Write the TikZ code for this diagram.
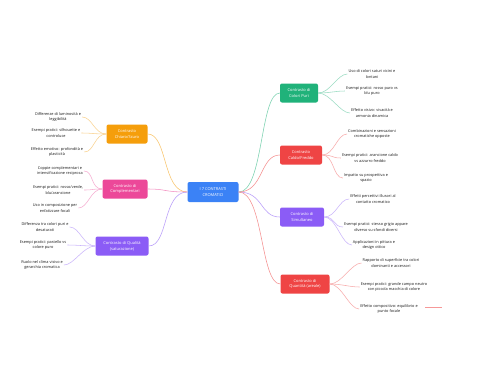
\documentclass[tikz,border=0pt]{standalone}
\usepackage{fontspec}
\setmainfont{Open Sans}
\definecolor{cgreen}{HTML}{20B27A}
\definecolor{cred}{HTML}{EF4444}
\definecolor{cpurple}{HTML}{8B5CF6}
\definecolor{corange}{HTML}{F59E0B}
\definecolor{cpink}{HTML}{EC4899}
\definecolor{cblue}{HTML}{3B82F6}
\tikzset{
  mainbox/.style={rounded corners=2pt, text=white, font=\fontsize{4}{5.6}\selectfont, align=center, minimum height=19pt, inner sep=1.5pt},
  leaf/.style={font=\fontsize{3.85}{5.6}\selectfont, align=center, text=black!90, inner sep=1pt},
  link/.style={line width=0.55pt}
}
\begin{document}
\begin{tikzpicture}[x=1pt,y=-1pt]
\useasboundingbox[fill=white] (0,0) rectangle (480,384);
% center
\node[mainbox, fill=cblue, minimum width=51pt, minimum height=20pt] (c) at (213,192) {I 7 CONTRASTI\\CROMATICI};
% right main nodes
\node[mainbox, fill=cgreen, minimum width=38pt] (g) at (299,93) {Contrasto di\\Colori Puri};
\node[mainbox, fill=cred, minimum width=42pt] (r1) at (301,155) {Contrasto\\Caldo/Freddo};
\node[mainbox, fill=cpurple, minimum width=44pt] (p1) at (302,217) {Contrasto di\\Simultaneo};
\node[mainbox, fill=cred, minimum width=49pt] (r2) at (305,284) {Contrasto di\\Quantità (areale)};
% left main nodes
\node[mainbox, fill=corange, minimum width=41pt] (o) at (127,134) {Contrasto\\Chiaro/Scuro};
\node[mainbox, fill=cpink, minimum width=45pt] (k) at (125,189) {Contrasto di\\Complementari};
\node[mainbox, fill=cpurple, minimum width=53pt] (q) at (122,246) {Contrasto di Qualità\\(saturazione)};
% right leaves
\node[leaf] (g1) at (372,74) {Uso di colori saturi vicini e\\lontani};
\node[leaf] (g2) at (372,91) {Esempi pratici: rosso puro vs\\blu puro};
\node[leaf] (g3) at (372,113) {Effetto visivo: vivacità e\\armonia dinamica};
\node[leaf] (r1a) at (372,134) {Combinazioni e sensazioni\\cromatiche opposte};
\node[leaf] (r1b) at (370,158) {Esempi pratici: arancione caldo\\vs azzurro freddo};
\node[leaf] (r1c) at (366,178) {Impatto su prospettiva e\\spazio};
\node[leaf] (p1a) at (373,199) {Effetti percettivi illusori al\\contatto cromatico};
\node[leaf] (p1b) at (376,227) {Esempi pratici: stesso grigio appare\\diverso su sfondi diversi};
\node[leaf] (p1c) at (374,245) {Applicazioni in pittura e\\design ottico};
\node[leaf] (r2a) at (391,263) {Rapporto di superficie tra colori\\dominanti e accessori};
\node[leaf] (r2b) at (394,287) {Esempi pratici: grande campo neutro\\con piccola macchia di colore};
\node[leaf] (r2c) at (389,309) {Effetto compositivo: equilibrio e\\punto focale};
% left leaves
\node[leaf] (o1) at (58,117) {Differenze di luminosità e\\leggibilità};
\node[leaf] (o2) at (56,133) {Esempi pratici: silhouette e\\controluce};
\node[leaf] (o3) at (57,152) {Effetto emotivo: profondità e\\plasticità};
\node[leaf] (k1) at (60,171) {Coppie complementari e\\intensificazione reciproca};
\node[leaf] (k2) at (58,190) {Esempi pratici: rosso/verde,\\blu/arancione};
\node[leaf] (k3) at (55,208) {Uso in composizione per\\enfatizzare focali};
\node[leaf] (q1) at (45,227) {Differenza tra colori puri e\\desaturati};
\node[leaf] (q2) at (43,245) {Esempi pratici: pastello vs\\colore puro};
\node[leaf] (q3) at (42,265) {Ruolo nel clima visivo e\\gerarchia cromatica};
% center links
\draw[link, cgreen!60] (c.east) .. controls +(25,0) and +(-20,0) .. (g.west);
\draw[link, cred!60] (c.east) .. controls +(25,0) and +(-20,0) .. (r1.west);
\draw[link, cpurple!60] (c.east) .. controls +(25,0) and +(-20,0) .. (p1.west);
\draw[link, cred!60] (c.east) .. controls +(25,0) and +(-20,0) .. (r2.west);
\draw[link, corange!60] (c.west) .. controls +(-25,0) and +(20,0) .. (o.east);
\draw[link, cpink!60] (c.west) .. controls +(-25,0) and +(20,0) .. (k.east);
\draw[link, cpurple!60] (c.west) .. controls +(-25,0) and +(20,0) .. (q.east);
% leaf links right
\foreach \l in {g1,g2,g3}{\draw[link, cgreen!45] (g.east) .. controls +(12,0) and +(-10,0) .. (\l.west);}
\foreach \l in {r1a,r1b,r1c}{\draw[link, cred!45] (r1.east) .. controls +(12,0) and +(-10,0) .. (\l.west);}
\foreach \l in {p1a,p1b,p1c}{\draw[link, cpurple!45] (p1.east) .. controls +(12,0) and +(-10,0) .. (\l.west);}
\foreach \l in {r2a,r2b,r2c}{\draw[link, cred!45] (r2.east) .. controls +(12,0) and +(-10,0) .. (\l.west);}
% leaf links left
\foreach \l in {o1,o2,o3}{\draw[link, corange!45] (o.west) .. controls +(-12,0) and +(10,0) .. (\l.east);}
\foreach \l in {k1,k2,k3}{\draw[link, cpink!45] (k.west) .. controls +(-12,0) and +(10,0) .. (\l.east);}
\foreach \l in {q1,q2,q3}{\draw[link, cpurple!45] (q.west) .. controls +(-12,0) and +(10,0) .. (\l.east);}
% stub
\coordinate (s1) at (425,307);
\coordinate (s2) at (442,307);
\draw[link, cred!55] (s1) -- (s2);
\end{tikzpicture}
\end{document}
